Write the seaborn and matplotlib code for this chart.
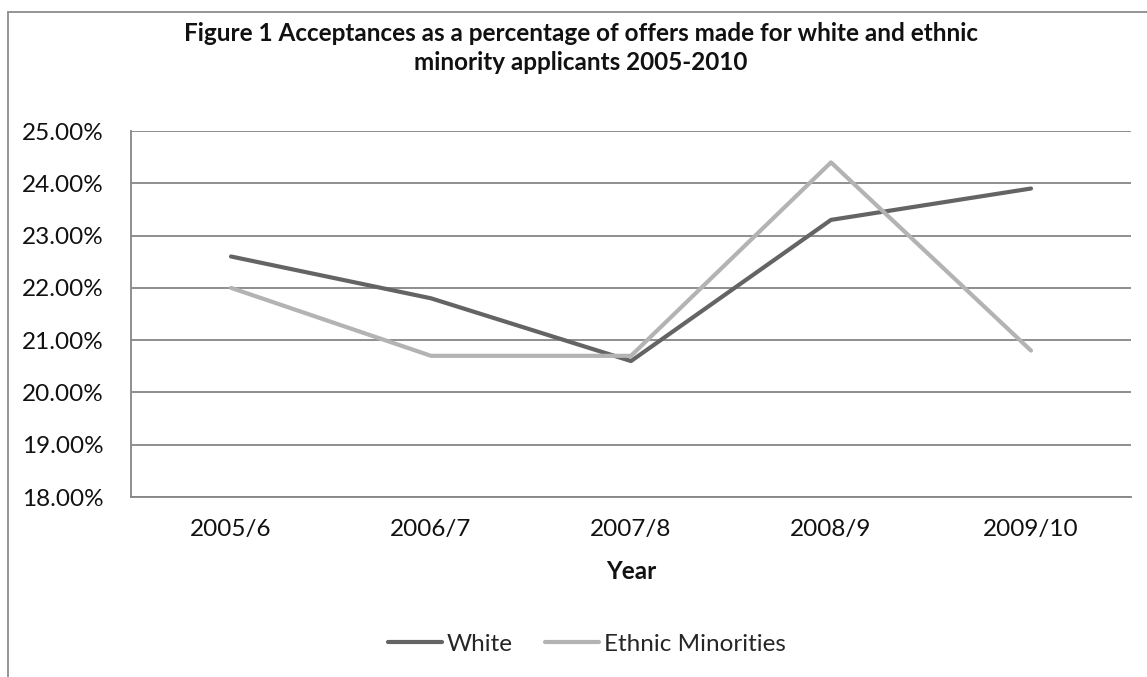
import matplotlib
matplotlib.use("Agg")
import matplotlib.pyplot as plt
import matplotlib.ticker as mticker
from matplotlib.lines import Line2D
import seaborn as sns
import pandas as pd

# Academic years and acceptance rates (% of offers made)
years = ["2005/6", "2006/7", "2007/8", "2008/9", "2009/10"]
white = [22.6, 21.8, 20.6, 23.3, 23.9]
ethnic_minorities = [22.0, 20.7, 20.7, 24.4, 20.8]
series_names = ["White", "Ethnic Minorities"]
series_colors = ["#646464", "#b3b3b3"]
y_ticks = [18, 19, 20, 21, 22, 23, 24, 25]

df = pd.DataFrame({
    "pos": list(range(len(years))) * 2,
    "Year": years * 2,
    "rate": white + ethnic_minorities,
    "series": [series_names[0]] * len(years) + [series_names[1]] * len(years),
})

sns.set_theme(style="white")
plt.rcParams["font.family"] = ["Lato", "DejaVu Sans"]

fig = plt.figure(figsize=(11.47, 6.77), dpi=100)
ax = fig.add_axes([131 / 1147, 1 - 497 / 677, 1000 / 1147, 366 / 677])

sns.lineplot(data=df, x="pos", y="rate", hue="series", hue_order=series_names,
             palette=series_colors, linewidth=3.0, ax=ax, legend=False,
             solid_capstyle="round", sort=False)

grid_col = "#868686"
text_col = "#111111"
fs = 17.5
ax.set_ylim(18, 25)
ax.set_xlim(-0.5, len(years) - 0.5)
ax.set_yticks(y_ticks)
ax.yaxis.set_major_formatter(mticker.FuncFormatter(lambda v, p: f"{v:.2f}%"))
ax.yaxis.grid(True, color=grid_col, linewidth=1.3)
ax.set_axisbelow(True)

# category boundaries carry the tick marks, labels sit at the centres
ax.set_xticks([i - 0.5 for i in range(len(years) + 1)])
ax.set_xticklabels([])
ax.set_xticks(range(len(years)), minor=True)
ax.set_xticklabels(years, minor=True)
ax.tick_params(axis="x", which="major", length=8, width=1.3, color=grid_col, direction="out")
ax.tick_params(axis="x", which="minor", length=0, pad=16, labelsize=fs, labelcolor=text_col)
ax.tick_params(axis="y", length=8, width=1.3, color=grid_col, direction="out",
               labelsize=fs, labelcolor=text_col, pad=12)

for side in ["top", "right"]:
    ax.spines[side].set_visible(False)
for side in ["left", "bottom"]:
    ax.spines[side].set_color(grid_col)
    ax.spines[side].set_linewidth(1.3)

ax.set_xlabel("Year", fontsize=fs, fontweight="bold", color=text_col, labelpad=14)
ax.set_ylabel("")

fig.text(581 / 1147, 1 - 48 / 677,
         "Figure 1 Acceptances as a percentage of offers made for white and ethnic\n"
         "minority applicants 2005-2010",
         ha="center", va="center", fontsize=17.5, fontweight="bold",
         color=text_col, linespacing=1.3)

handles = [Line2D([], [], color=c, linewidth=3.0, solid_capstyle="round")
           for c in series_colors]
fig.legend(handles, series_names, loc="center", ncol=2,
           bbox_to_anchor=(587 / 1147, 1 - 644 / 677), frameon=False,
           fontsize=fs, handlelength=2.2, handletextpad=0.2, columnspacing=1.35)

# chart frame (top and left edges visible)
frame_col = "#8c8c8c"
fig.add_artist(Line2D([8 / 1147, 1.0], [1 - 12 / 677, 1 - 12 / 677],
                      transform=fig.transFigure, color=frame_col, linewidth=1.3))
fig.add_artist(Line2D([8 / 1147, 8 / 1147], [0.0, 1 - 12 / 677],
                      transform=fig.transFigure, color=frame_col, linewidth=1.3))

fig.savefig("out.png", dpi=100, facecolor="white")
